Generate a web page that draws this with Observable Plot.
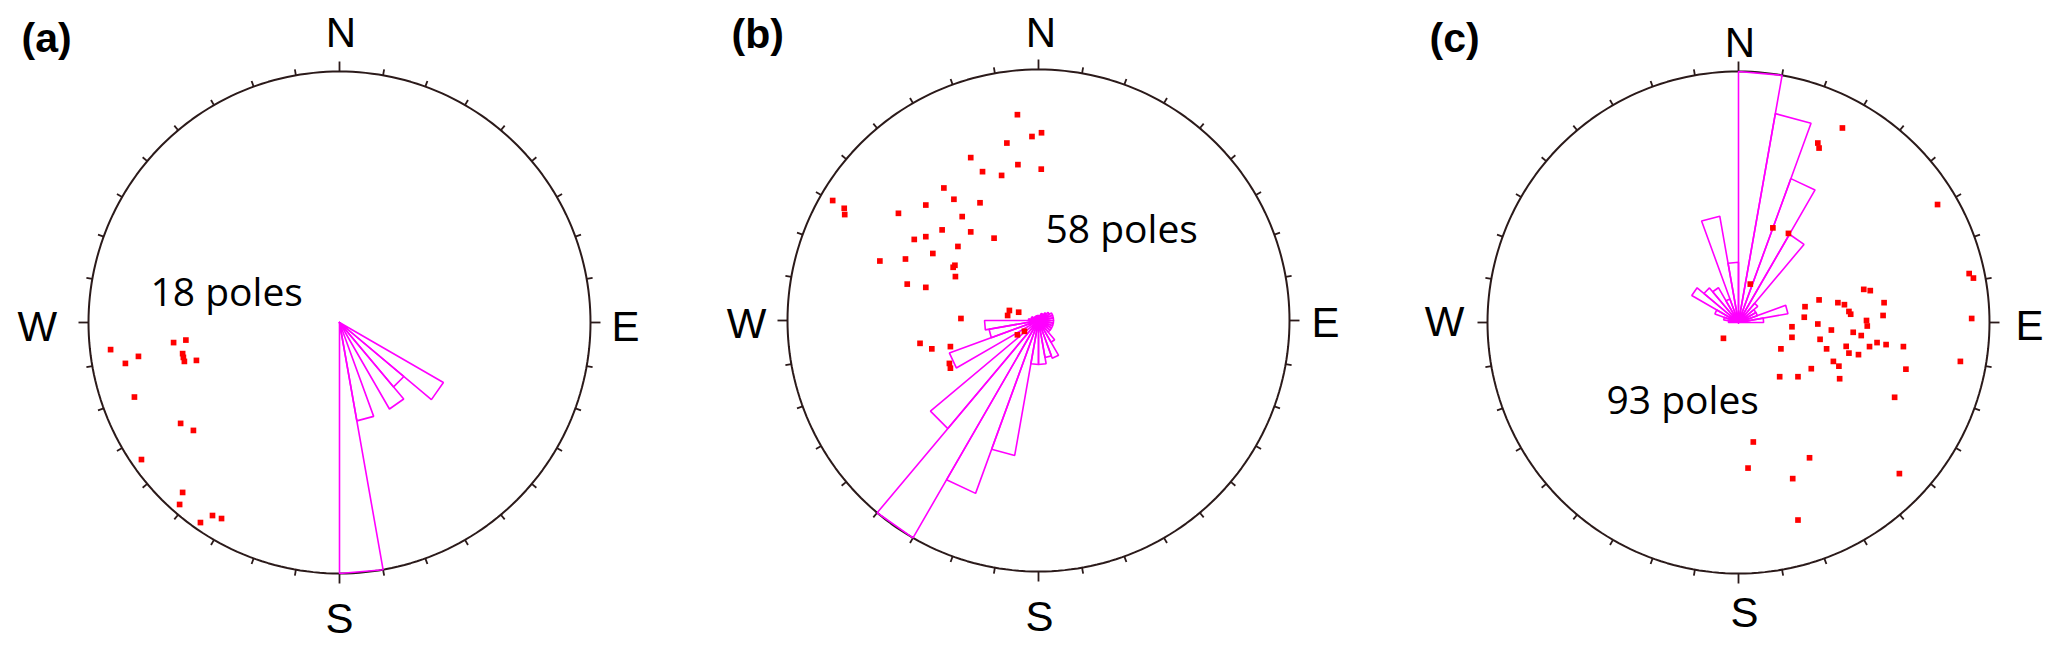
<!DOCTYPE html>
<html><head><meta charset="utf-8">
<script src="https://cdn.jsdelivr.net/npm/d3@7"></script>
<script src="https://cdn.jsdelivr.net/npm/@observablehq/plot@0.6"></script>
<style>html,body{margin:0;padding:0;background:#fff}#chart svg{display:block}</style>
</head><body><div id="chart"></div>
<script>
// ===== DATA =====
const panels = ["a", "b", "c"];
const poleCounts = [18, 58, 93];
const cardinals = ["N", "E", "S", "W"];
const binStarts = [0,10,20,30,40,50,60,70,80,90,100,110,120,130,140,150,160,170,
                   180,190,200,210,220,230,240,250,260,270,280,290,300,310,320,330,340,350];
// rose petal lengths per 10-degree bin, as a fraction of the net radius
const roseA = [0,0,0,0,0,0,0,0,0,0,0,0, 0.478,0.335,0.398,0,0.398,1.0,
               0,0,0,0,0,0,0,0,0,0,0,0,0,0,0,0,0,0];
const roseB = [0.02,0.02,0.03,0.03,0.04,0.05,0.06,0.06,0.06,0.06,0.06,0.06,0.06,0.06,0.10,0.16,0.15,0.175,
               0.175,0.546,0.733,1.0,0.562,0,0.378,0.20,0.215,0.04,0.03,0.03,0.02,0.02,0.02,0.02,0.02,0.02];
const roseC = [1.0,0.845,0.61,0.406,0.10,0.08,0.08,0.20,0.10,0,0,0,0,0,0,0,0,0,
               0,0,0,0,0,0,0,0,0,0.04,0.06,0.10,0.215,0.18,0.16,0.10,0.43,0.24];
// poles: projected position [east, north] in units of the net radius
const polesA = [[-0.912,-0.108],[-0.853,-0.163],[-0.801,-0.135],[-0.661,-0.080],[-0.612,-0.070],
  [-0.625,-0.124],[-0.618,-0.155],[-0.570,-0.151],[-0.817,-0.297],[-0.633,-0.402],[-0.582,-0.430],
  [-0.789,-0.546],[-0.625,-0.677],[-0.637,-0.725],[-0.554,-0.797],[-0.506,-0.769],[-0.470,-0.781],
  [-0.622,-0.139]];
const polesB = [[-0.084,0.820],[-0.026,0.733],[0.012,0.748],[-0.126,0.707],[-0.270,0.649],[-0.223,0.593],
  [-0.147,0.578],[-0.082,0.621],[0.011,0.603],[-0.377,0.528],[-0.337,0.483],[-0.233,0.469],[-0.449,0.460],
  [-0.820,0.478],[-0.774,0.447],[-0.772,0.422],[-0.558,0.427],[-0.304,0.414],[-0.384,0.361],[-0.270,0.353],
  [-0.449,0.334],[-0.495,0.323],[-0.177,0.328],[-0.321,0.295],[-0.421,0.267],[-0.530,0.245],[-0.632,0.237],
  [-0.333,0.220],[-0.340,0.212],[-0.331,0.175],[-0.523,0.145],[-0.449,0.132],[-0.116,0.040],[-0.079,0.033],
  [-0.123,0.020],[-0.309,0.008],[-0.056,-0.043],[-0.084,-0.057],[-0.472,-0.091],[-0.425,-0.113],
  [-0.351,-0.104],[-0.355,-0.171],[-0.351,-0.190]];
const polesC = [[0.414,0.775],[0.316,0.715],[0.321,0.695],[0.793,0.470],[0.137,0.377],[0.199,0.355],
  [0.047,0.153],[0.919,0.195],[0.936,0.177],[0.499,0.132],[0.525,0.127],[0.321,0.090],[0.396,0.079],
  [0.422,0.071],[0.580,0.079],[0.440,0.044],[0.447,0.033],[0.265,0.063],[0.262,0.021],[0.576,0.028],
  [0.510,0.008],[0.513,-0.014],[0.929,0.016],[0.316,-0.006],[0.370,-0.030],[0.213,-0.017],[0.213,-0.059],
  [-0.060,-0.063],[0.457,-0.039],[0.489,-0.052],[0.325,-0.067],[0.552,-0.080],[0.522,-0.096],[0.588,-0.088],
  [0.657,-0.096],[0.169,-0.105],[0.351,-0.105],[0.429,-0.095],[0.440,-0.122],[0.478,-0.128],[0.378,-0.155],
  [0.400,-0.174],[0.884,-0.155],[0.290,-0.184],[0.667,-0.186],[0.164,-0.216],[0.237,-0.216],[0.403,-0.224],
  [0.622,-0.298],[0.059,-0.476],[0.283,-0.539],[0.038,-0.580],[0.216,-0.622],[0.641,-0.602],[0.237,-0.787]];

// ===== LAYOUT (pixels) =====
const W = 2067, H = 652, R = 251;
const layout = {
  center: {a: [339, 322], b: [1038, 320], c: [1738, 322]},
  // cardinal label offsets [east, north] in net radii, order N E S W
  cardOff: {
    a: [[0.006, 1.151], [1.139, -0.022], [0.000, -1.183], [-1.204, -0.022]],
    b: [[0.010, 1.143], [1.143, -0.012], [0.004, -1.183], [-1.163, -0.016]],
    c: [[0.006, 1.112], [1.159, -0.016], [0.024, -1.161], [-1.171, 0.000]]
  },
  countPos: {a: [150, 305.5], b: [1045, 242], c: [1606, 413.5]},
  letterPos: {a: [21, 51.6], b: [731, 47.6], c: [1429, 51.6]}
};
const cx = p => layout.center[p][0] / R;
const cy = p => (H - layout.center[p][1]) / R;
const px = v => v / R;
const py = v => (H - v) / R;
const rad = d => d * Math.PI / 180;

// primitive circle geometry
const circle = [];
for (const p of panels) for (let k = 0; k <= 240; k++) {
  const t = 2 * Math.PI * k / 240;
  circle.push({panel: p, x: cx(p) + Math.sin(t), y: cy(p) + Math.cos(t)});
}
const ticks = [];
for (const p of panels) for (const az of binStarts) {
  const L = az % 90 === 0 ? 10 / R : 6 / R, a = rad(az);
  ticks.push({x1: cx(p) + Math.sin(a), y1: cy(p) + Math.cos(a),
              x2: cx(p) + (1 + L) * Math.sin(a), y2: cy(p) + (1 + L) * Math.cos(a)});
}
const petals = [];
[roseA, roseB, roseC].forEach((lens, i) => {
  const p = panels[i];
  binStarts.forEach((b, j) => {
    const L = lens[j]; if (!L) return;
    const a1 = rad(b), a2 = rad(b + 10), id = p + b;
    petals.push({id, x: cx(p), y: cy(p)},
      {id, x: cx(p) + L * Math.sin(a1), y: cy(p) + L * Math.cos(a1)},
      {id, x: cx(p) + L * Math.sin(a2), y: cy(p) + L * Math.cos(a2)},
      {id, x: cx(p), y: cy(p)});
  });
});
const poles = [];
[polesA, polesB, polesC].forEach((arr, i) => arr.forEach(([e, n]) => poles.push({panel: panels[i], e, n})));
const cardLabels = [];
for (const p of panels) cardinals.forEach((c, k) => cardLabels.push({panel: p, text: c, off: layout.cardOff[p][k]}));
const countLabels = panels.map((p, i) => ({panel: p, text: `${poleCounts[i]} poles`}));
const letterLabels = panels.map(p => ({panel: p, text: `(${p})`}));

const chart = Plot.plot({
  width: W, height: H,
  marginTop: 0, marginRight: 0, marginBottom: 0, marginLeft: 0,
  x: {domain: [0, W / R], range: [0, W], axis: null},
  y: {domain: [0, H / R], range: [H, 0], axis: null},
  style: {background: "#ffffff", overflow: "visible"},
  marks: [
    Plot.line(circle, {x: "x", y: "y", z: "panel", stroke: "#2b1a1a", strokeWidth: 2}),
    Plot.link(ticks, {x1: "x1", y1: "y1", x2: "x2", y2: "y2", stroke: "#2b1a1a", strokeWidth: 1.8}),
    Plot.line(petals, {x: "x", y: "y", z: "id", stroke: "#ff00ff", strokeWidth: 1.6, strokeLinejoin: "miter"}),
    Plot.dot(poles, {x: d => cx(d.panel) + d.e, y: d => cy(d.panel) + d.n, symbol: "square", r: 3.2, fill: "#ff0000", stroke: null}),
    Plot.text(cardLabels, {x: d => cx(d.panel) + d.off[0], y: d => cy(d.panel) + d.off[1], text: "text",
      fontFamily: "Liberation Sans, Arial, sans-serif", fontSize: 42, fill: "#000"}),
    Plot.text(countLabels, {x: d => px(layout.countPos[d.panel][0]), y: d => py(layout.countPos[d.panel][1]), text: "text",
      textAnchor: "start", lineAnchor: "bottom", fontFamily: "Open Sans, sans-serif", fontSize: 39, fill: "#000"}),
    Plot.text(letterLabels, {x: d => px(layout.letterPos[d.panel][0]), y: d => py(layout.letterPos[d.panel][1]), text: "text",
      textAnchor: "start", lineAnchor: "bottom", fontFamily: "Liberation Sans, Arial, sans-serif", fontWeight: "bold", fontSize: 41, fill: "#000"})
  ]
});
document.getElementById("chart").appendChild(chart);
</script>
</body></html>
